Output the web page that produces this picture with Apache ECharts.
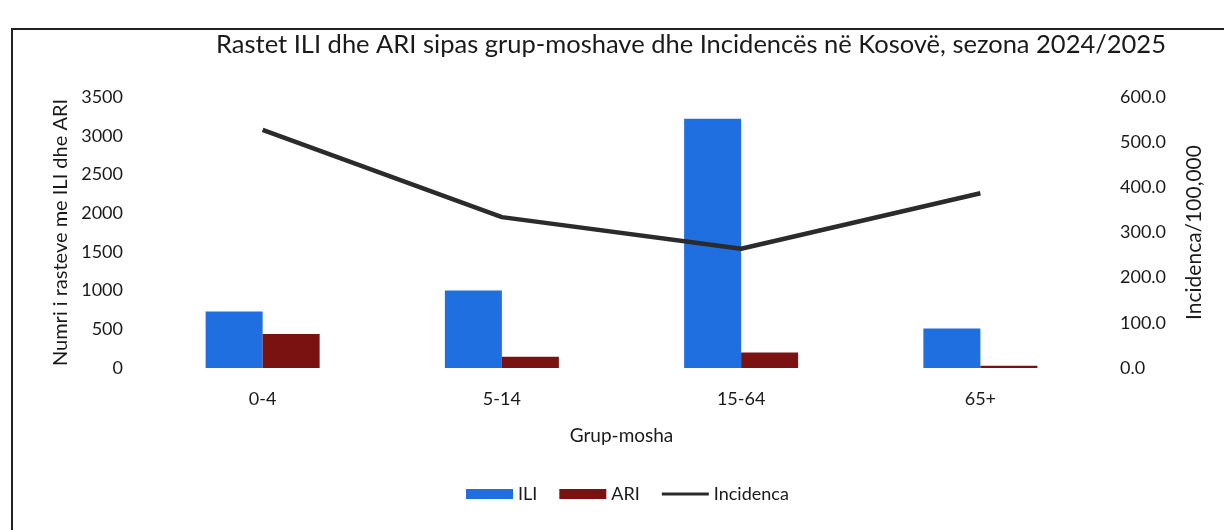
<!DOCTYPE html>
<html>
<head>
<meta charset="utf-8">
<script src="https://cdn.jsdelivr.net/npm/echarts@6/dist/echarts.min.js"></script>
<style>
  html, body { margin: 0; padding: 0; background: #fff; }
  #chart { width: 1224px; height: 530px; }
</style>
</head>
<body>
<div id="chart"></div>
<script>
var ageGroups = ['0-4', '5-14', '15-64', '65+'];
var iliCases = [730, 1000, 3220, 510];
var ariCases = [440, 145, 200, 30];
var incidence = [527, 334, 264, 387];

var fontName = 'Lato';
var chartDom = document.getElementById('chart');
var chart = echarts.init(chartDom);

var option = {
  backgroundColor: '#fff',
  textStyle: { fontFamily: fontName, color: '#1a1a1a' },
  title: {
    text: 'Rastet ILI dhe ARI sipas grup-moshave dhe Incidencës në Kosovë, sezona 2024/2025',
    left: 686,
    top: 27,
    textAlign: 'center',
    textStyle: { fontFamily: fontName, fontSize: 25.5, fontWeight: 'normal', color: '#1a1a1a' }
  },
  graphic: [{
    type: 'polyline',
    shape: { points: [[12, 530], [12, 29], [1224, 29]] },
    style: { stroke: '#222', lineWidth: 2, fill: null }
  }],
  legend: {
    bottom: 22,
    left: 461,
    itemWidth: 47,
    itemHeight: 10,
    itemGap: 22,
    textStyle: { fontFamily: fontName, fontSize: 18, color: '#1a1a1a' },
    data: [
      { name: 'ILI', icon: 'rect' },
      { name: 'ARI', icon: 'rect' },
      { name: 'Incidenca', icon: 'path://M0,3.5 L47,3.5 L47,6.5 L0,6.5 Z' }
    ]
  },
  grid: { left: 143, right: 124, top: 97, bottom: 162 },
  xAxis: {
    type: 'category',
    data: ageGroups,
    name: 'Grup-mosha',
    nameLocation: 'middle',
    nameGap: 58,
    nameTextStyle: { fontFamily: fontName, fontSize: 19, color: '#1a1a1a' },
    axisLine: { show: false },
    axisTick: { show: false },
    axisLabel: { fontSize: 18, margin: 22, color: '#1a1a1a' }
  },
  yAxis: [{
    type: 'value',
    min: 0,
    max: 3500,
    interval: 500,
    name: 'Numri i rasteve me ILI dhe ARI',
    nameLocation: 'middle',
    nameGap: 72,
    nameTextStyle: { fontFamily: fontName, fontSize: 20, color: '#1a1a1a' },
    axisLine: { show: false },
    axisTick: { show: false },
    splitLine: { show: false },
    axisLabel: {
      fontSize: 18, margin: 20, color: '#1a1a1a',
      formatter: function (v) { return String(v); }
    }
  }, {
    type: 'value',
    min: 0,
    max: 600,
    interval: 100,
    name: 'Incidenca/100,000',
    nameLocation: 'middle',
    nameGap: 84,
    nameTextStyle: { fontFamily: fontName, fontSize: 21, color: '#1a1a1a' },
    axisLine: { show: false },
    axisTick: { show: false },
    splitLine: { show: false },
    axisLabel: {
      fontSize: 18, margin: 20, color: '#1a1a1a',
      formatter: function (v) { return v.toFixed(1); }
    }
  }],
  series: [{
    name: 'ILI',
    type: 'bar',
    data: iliCases,
    barWidth: 57,
    barGap: '0%',
    itemStyle: { color: '#1f6fe0' }
  }, {
    name: 'ARI',
    type: 'bar',
    data: ariCases,
    barWidth: 57,
    itemStyle: { color: '#7a1212' }
  }, {
    name: 'Incidenca',
    type: 'line',
    yAxisIndex: 1,
    data: incidence,
    symbol: 'none',
    lineStyle: { color: '#2b2b2b', width: 4.5 },
    itemStyle: { color: '#2b2b2b' }
  }]
};
chart.setOption(option);
</script>
</body>
</html>
